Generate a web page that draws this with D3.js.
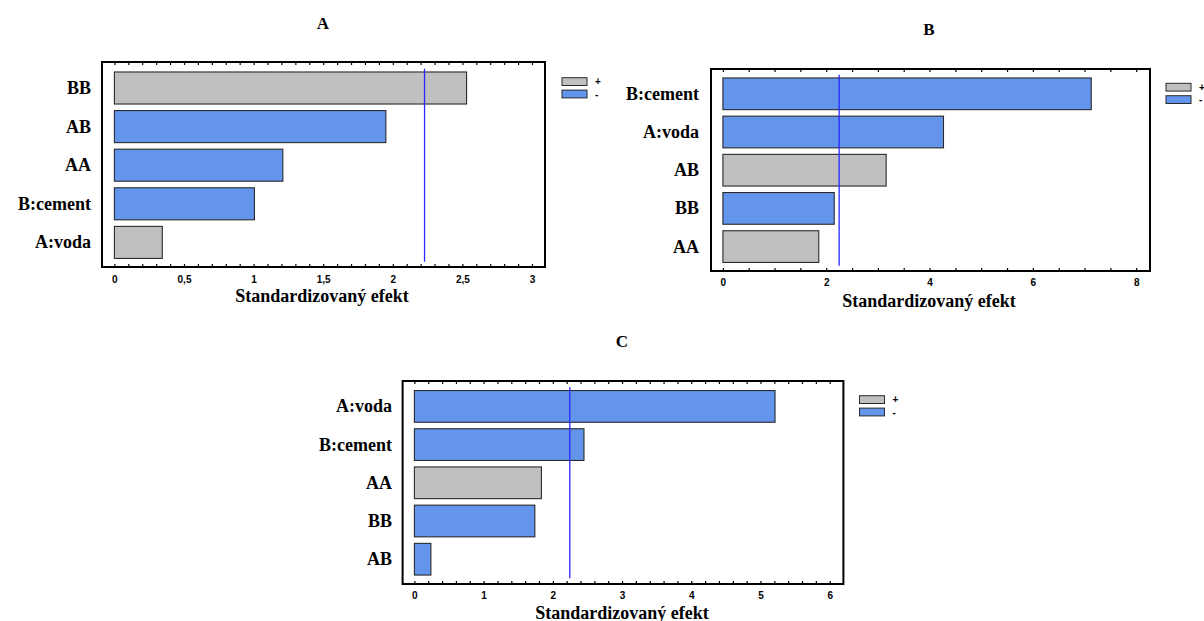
<!DOCTYPE html>
<html>
<head>
<meta charset="utf-8">
<script src="https://cdn.jsdelivr.net/npm/d3@7"></script>
<style>
  html, body { margin: 0; padding: 0; background: #fff; }
  svg { display: block; }
  .serif { font-family: "Liberation Serif", "Times New Roman", Times, "DejaVu Serif", serif; font-weight: bold; }
  .sans { font-family: "Liberation Sans", Arial, Helvetica, sans-serif; font-weight: bold; }
</style>
</head>
<body>
<svg id="chart" width="1204" height="621"></svg>
<script>
// ---- DATA ----
const panelTitles = ["A", "B", "C"];

const termsA  = ["BB", "AB", "AA", "B:cement", "A:voda"];
const valuesA = [2.53, 1.95, 1.21, 1.006, 0.344];
const signsA  = ["+", "-", "-", "-", "+"];

const termsB  = ["B:cement", "A:voda", "AB", "BB", "AA"];
const valuesB = [7.13, 4.27, 3.16, 2.155, 1.856];
const signsB  = ["-", "-", "+", "-", "+"];

const termsC  = ["A:voda", "B:cement", "AA", "BB", "AB"];
const valuesC = [5.21, 2.45, 1.835, 1.74, 0.238];
const signsC  = ["-", "-", "+", "-", "-"];

const criticalValues = [2.228, 2.25, 2.245];

const xMaxA = 3, xMaxB = 8, xMaxC = 6;
const tickLabelsA = ["0", "0,5", "1", "1,5", "2", "2,5", "3"];
const tickLabelsB = ["0", "2", "4", "6", "8"];
const tickLabelsC = ["0", "1", "2", "3", "4", "5", "6"];
const minorStepA = 0.1, minorStepB = 0.5, minorStepC = 0.2;

const legendSigns = ["+", "-"];
const xAxisTitle = "Standardizovaný efekt";

// ---- STYLE / LAYOUT ----
const colorBySign = { "+": "#c0c0c0", "-": "#6495ed" };

const panels = [
  { title: panelTitles[0], terms: termsA, values: valuesA, signs: signsA, crit: criticalValues[0],
    xMax: xMaxA, tickLabels: tickLabelsA, minor: minorStepA,
    frame: [102, 545, 62, 267], xr: [114.4, 532], yr: [68.7, 261.7], labelRight: 91,
    titleXY: [323, 28.5], xlabXY: [322, 302], tickY: 282.5, legXY: [562, 77.7] },
  { title: panelTitles[1], terms: termsB, values: valuesB, signs: signsB, crit: criticalValues[1],
    xMax: xMaxB, tickLabels: tickLabelsB, minor: minorStepB,
    frame: [711, 1150, 69, 271], xr: [722.9, 1136.2], yr: [74.7, 265.7], labelRight: 699,
    titleXY: [929, 35], xlabXY: [929, 307], tickY: 286, legXY: [1166, 83.3] },
  { title: panelTitles[2], terms: termsC, values: valuesC, signs: signsC, crit: criticalValues[2],
    xMax: xMaxC, tickLabels: tickLabelsC, minor: minorStepC,
    frame: [402.6, 843.4, 381, 584], xr: [414.4, 829.7], yr: [387.3, 578.3], labelRight: 392,
    titleXY: [622, 347], xlabXY: [622, 618.5], tickY: 599, legXY: [859.5, 395.7] }
];

const svg = d3.select("#chart");

panels.forEach(p => {
  const g = svg.append("g");
  const x = d3.scaleLinear().domain([0, p.xMax]).range(p.xr);
  const y = d3.scaleBand().domain(p.terms).range(p.yr).paddingInner(0.17).paddingOuter(0.085);
  const [fl, fr, ft, fb] = p.frame;

  // title
  g.append("text").attr("class", "serif").attr("x", p.titleXY[0]).attr("y", p.titleXY[1])
    .attr("text-anchor", "middle").style("font-size", "17px").text(p.title);

  // bars
  const rows = p.terms.map((t, i) => ({ term: t, value: p.values[i], sign: p.signs[i] }));
  g.selectAll("rect.bar").data(rows).enter().append("rect")
    .attr("class", "bar")
    .attr("x", x(0)).attr("y", d => y(d.term))
    .attr("width", d => x(d.value) - x(0)).attr("height", y.bandwidth())
    .attr("fill", d => colorBySign[d.sign])
    .attr("stroke", "#2a2a2a").attr("stroke-width", 1.1);

  // critical line
  g.append("line").attr("x1", x(p.crit)).attr("x2", x(p.crit))
    .attr("y1", p.yr[0]).attr("y2", p.yr[1])
    .attr("stroke", "#2828ff").attr("stroke-width", 1.3);

  // y labels
  g.selectAll("text.ylab").data(rows).enter().append("text")
    .attr("class", "ylab serif")
    .attr("x", p.labelRight).attr("y", d => y(d.term) + y.bandwidth() / 2 + 6)
    .attr("text-anchor", "end").style("font-size", "18px").text(d => d.term);

  // minor + major ticks (inward, top & bottom)
  const nMinor = Math.round(p.xMax / p.minor);
  const tickVals = d3.range(0, nMinor + 1).map(i => i * p.minor);
  const axisBottom = d3.axisTop(x).tickValues(tickVals).tickSize(3).tickFormat("");
  const gb = g.append("g").attr("transform", `translate(0,${fb})`).call(axisBottom);
  gb.select(".domain").remove();
  gb.selectAll("line").attr("stroke", "#000").attr("stroke-width", 1.2);
  const axisTopG = d3.axisBottom(x).tickValues(tickVals).tickSize(3).tickFormat("");
  const gt = g.append("g").attr("transform", `translate(0,${ft})`).call(axisTopG);
  gt.select(".domain").remove();
  gt.selectAll("line").attr("stroke", "#000").attr("stroke-width", 1.2);

  // tick labels
  const majorVals = p.tickLabels.map(s => +s.replace(",", "."));
  const axisLab = d3.axisBottom(x).tickValues(majorVals).tickSize(0)
    .tickFormat((d, i) => p.tickLabels[i]);
  const gl = g.append("g").attr("transform", `translate(0,${p.tickY - 10})`).call(axisLab);
  gl.select(".domain").remove();
  gl.attr("font-family", null).attr("font-size", null);
  gl.selectAll("text").attr("class", "sans").style("font-size", "10px")
    .attr("fill", "#000").attr("dy", 0).attr("y", 10);

  // frame
  g.append("rect").attr("x", fl).attr("y", ft).attr("width", fr - fl).attr("height", fb - ft)
    .attr("fill", "none").attr("stroke", "#000").attr("stroke-width", 2);

  // x axis title
  g.append("text").attr("class", "serif").attr("x", p.xlabXY[0]).attr("y", p.xlabXY[1])
    .attr("text-anchor", "middle").style("font-size", "18px").text(xAxisTitle);

  // legend
  legendSigns.forEach((s, i) => {
    const ly = p.legXY[1] + i * 12.4;
    g.append("rect").attr("x", p.legXY[0]).attr("y", ly).attr("width", 25).attr("height", 7.8)
      .attr("fill", colorBySign[s]).attr("stroke", "#2a2a2a").attr("stroke-width", 1);
    g.append("text").attr("class", "sans").attr("x", p.legXY[0] + 33).attr("y", ly + 7.5)
      .style("font-size", "10px").text(s);
  });
});
</script>
</body>
</html>
